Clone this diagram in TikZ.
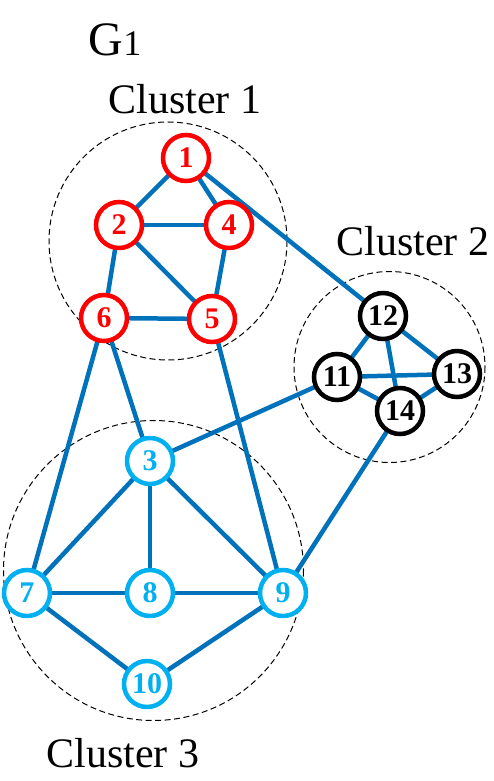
\documentclass[tikz,border=0pt]{standalone}
\usepackage{fontspec}
\setmainfont{Liberation Serif}
\usepackage{xcolor}
\usepackage{tikz}
\usetikzlibrary{backgrounds}

\definecolor{edgeblue}{RGB}{0,114,188}
\definecolor{cyanblue}{RGB}{0,176,240}
\definecolor{nodered}{RGB}{255,0,0}

\tikzset{
	vertex/.style={circle, draw, fill=white, line width=4.5pt, minimum size=46pt, inner sep=0pt,
		font=\fontsize{30}{30}\selectfont\bfseries},
	redv/.style={vertex, draw=nodered, text=nodered},
	cyanv/.style={vertex, draw=cyanblue, text=cyanblue},
	blackv/.style={vertex, draw=black, text=black},
	link/.style={draw=edgeblue, line width=4.5pt},
	cluster/.style={draw=black, dash pattern=on 6pt off 3.5pt, line width=1pt},
	title/.style={font=\fontsize{42}{42}\selectfont}
}

\begin{document}
\begin{tikzpicture}[x=1pt, y=-1pt]
			\useasboundingbox (0,0) rectangle (494,781);
			% cluster 1
			\node(v1)[redv] at (186,158) {1};
			\node(v2)[redv] at (119,225) {2};
			\node(v4)[redv] at (229,225) {4};
			\node(v6)[redv] at (104,318) {6};
			\node(v5)[redv] at (212,319) {5};
			% cluster 2
			\node(v12)[blackv] at (383,316) {12};
			\node(v11)[blackv] at (337,377) {11};
			\node(v13)[blackv] at (457,374) {13};
			\node(v14)[blackv] at (400,411) {14};
			% cluster 3
			\node(v3)[cyanv] at (150,461) {3};
			\node(v7)[cyanv] at (27,593) {7};
			\node(v8)[cyanv] at (150,593) {8};
			\node(v9)[cyanv] at (283,593) {9};
			\node(v10)[cyanv] at (147,684) {10};
			% labels
			\node(g1) at (115,40) {\fontsize{48}{48}\selectfont G\fontsize{36}{36}\selectfont 1};
			\node(c1)[title] at (185,99) {Cluster 1};
			\node(c2)[title] at (413,241) {Cluster 2};
			\node(c3)[title] at (123,753) {Cluster 3};
			\begin{scope}[on background layer]
				\draw[cluster] (168,241) circle (119);
				\draw[cluster] (389.5,367) circle (95.5);
				\draw[cluster] (153.5,570.5) circle (150);
				\foreach \a/\b in {v1/v2, v1/v4, v1/v12, v2/v4, v2/v5, v2/v6, v4/v5, v6/v5,
					v6/v7, v6/v3, v5/v9, v3/v11, v3/v7, v3/v8, v3/v9, v7/v8, v8/v9,
					v7/v10, v10/v9, v9/v14, v12/v11, v12/v13, v12/v14, v11/v13, v11/v14, v14/v13}
					\draw[link] (\a.center) -- (\b.center);
			\end{scope}
		\end{tikzpicture}
\end{document}
